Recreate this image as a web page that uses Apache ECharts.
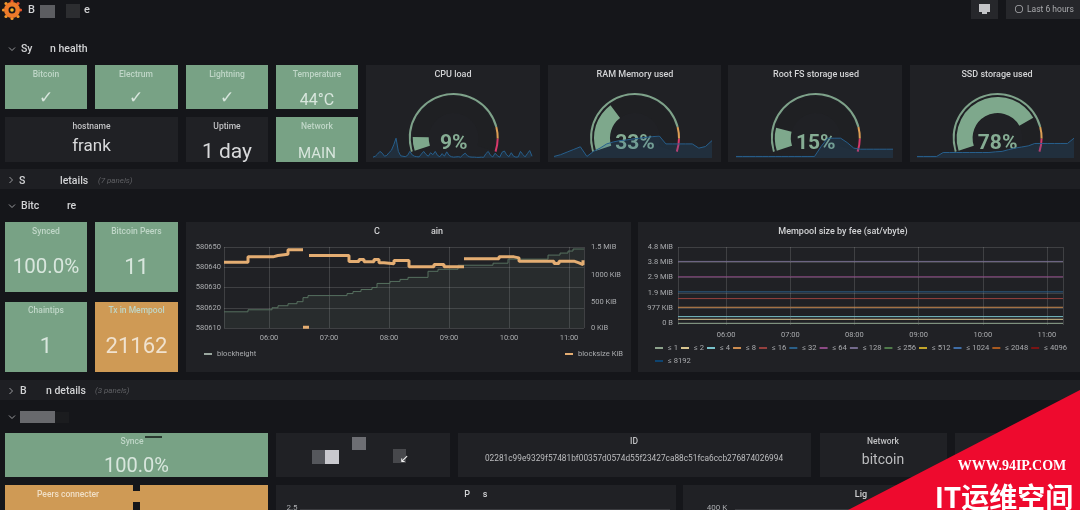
<!DOCTYPE html>
<html>
<head>
<meta charset="utf-8">
<script src="https://cdn.jsdelivr.net/npm/echarts@6/dist/echarts.min.js"></script>
<style>
html,body{margin:0;padding:0;background:#15161a;}
#main{width:1080px;height:510px;}
</style>
</head>
<body>
<div id="main"></div>
<script>
// gauges
var gaugeNames=['CPU load','RAM Memory used','Root FS storage used','SSD storage used'];
var gaugeValues=[9,33,15,78];
// sparklines behind the gauges (0-100 = height of the spark area)
var cpuSpark=[4,8,18,30,22,8,12,25,35,60,90,30,10,8,6,12,30,14,8,6,5,18,30,16,8,24,15,30,12,6,20,8,28,12,6,4,5,6,4,14,22,10,5,4,4,3,3,4,3,20,30,12,5,22,10,4,26,32,14,6,24,8,4,5,30,16,5,20,34,8];
var ramSpark=[7,15,27,39,51,7,30,45,64,73,79,82,87,90,94,97,100,64,64,64,64,64,45,52,79];
var rootSpark=[7,7,7,7,7,7,7,7,7,7,7,7,7,52,90,90,90,70,45,40,40,40,40,40,40];
var ssdSpark=[7,7,7,7,25,25,25,25,25,25,25,25,28,30,38,45,50,55,66,66,66,66,66,66,90];

// blockheight / blocksize chart
var blockTimes=['05:15','05:39','06:03','06:09','06:19','06:28','06:34','06:39','07:18','07:24','07:32','07:43','07:48','08:01','08:11','08:19','08:39','08:49','09:09','09:44','09:59','10:39','10:51','10:59','11:04','11:15'];
var blockHeight=[580618,580619,580620,580621,580622,580623,580625,580626,580627,580628,580629,580630,580632,580633,580634,580635,580638,580639,580641,580642,580644,580646,580647,580648,580649,580649];
var sizeTimes=['05:15','05:39','06:04','06:09','06:19','06:34','06:34','06:34','06:39','06:40','06:40','07:20','07:30','07:35','07:45','07:50','07:55','08:05','08:20','08:25','08:45','08:55','09:15','09:15','09:50','10:05','10:10','10:45','10:50','11:05','11:10','11:14'];
var sizeValues=[1249,1349,1374,1399,1486,1486,null,12,12,null,1374,1261,1299,1255,1299,1236,1218,1280,1161,1161,1205,1161,null,1311,1349,1330,1267,1224,1267,1236,1199,1286];

// mempool chart
var feeNames=['≤ 1','≤ 2','≤ 4','≤ 8','≤ 16','≤ 32','≤ 64','≤ 128','≤ 256','≤ 512','≤ 1024','≤ 2048','≤ 4096','≤ 8192'];
var feeTimes=['05:15','07:00','09:00','11:15'];
var fee1=[0,0,0,0];
var fee2=[257,257,257,257];
var fee4=[428,428,428,428];
var fee8=[1027,1027,1027,1027];
var fee16=[1584,1584,1584,1584];
var fee32=[2012,2012,2012,2012];
var fee64=[2975,2975,2975,2975];
var fee128=[3960,3960,3960,3960];
var feeValues=[fee1,fee2,fee4,fee8,fee16,fee32,fee64,fee128,[],[],[],[],[],[]];
var feeColors=['#8da38c','#d8c48f','#79c2ca','#cc8c50','#94403e','#2a5f88','#8c4a85','#736a8c','#4f7a4a','#c2a52a','#3f6ea8','#a85a20','#7a1414','#0e4470'];
var memTicks=[0,976.5625,1953.125,2929.6875,3906.25,4882.8125];
var memLabels=['0 B','977 KiB','1.9 MiB','2.9 MiB','3.8 MiB','4.8 MiB'];
var sizeTicks=[0,500,1000,1536];
var sizeLabels=['0 KiB','500 KiB','1000 KiB','1.5 MiB'];
var fontName='Roboto, "Noto Sans", sans-serif';
var bg='#15161a',panel='#202125',green='#78a285',orange='#cf9a55',txt='#d2d3d5',axisTxt='#a9abae',gridCol='rgba(255,255,255,0.14)';
var day='2019-06-18 ';

function pairs(t,v){
    var out=[];
    for(var i=0;i<t.length;i++){
        out.push([day+t[i],v[i]]);
    }
    return out;
}
function rect(x,y,w,h,c,z){
    return {type:'rect',z:z||0,shape:{x:x,y:y,width:w,height:h},style:{fill:c}};
}
function label(s,x,y,size,c,align,weight,fam){
    // canvas middle sits high for this font, big text needs more
    var dy=size>14?4:3;
    return {type:'text',z:50,x:x,y:y+dy,style:{text:s,fill:c||txt,font:(weight||'400')+' '+size+'px '+(fam||fontName),textAlign:align||'center',textVerticalAlign:'middle'}};
}
function chevron(x,y,down){
    var pts=down?[[x-3,y-1.5],[x,y+1.5],[x+3,y-1.5]]:[[x-1.5,y-3],[x+1.5,y],[x-1.5,y+3]];
    return {type:'polyline',z:50,shape:{points:pts},style:{stroke:'#9a9b9e',lineWidth:1,fill:null}};
}

var g=[];
// top bar
var teeth=[[12,1.5],[18,3.5],[20.5,10],[18,16.5],[12,18.5],[6,16.5],[3.5,10],[6,3.5]];
for(var t=0;t<teeth.length;t++){
    g.push({type:'circle',z:50,shape:{cx:teeth[t][0],cy:teeth[t][1],r:1.6},style:{fill:t<3?'#e8562a':'#f09a2c'}});
}
g.push({type:'ring',z:50,shape:{cx:12,cy:10,r:8,r0:3.5},style:{fill:'#ec7a2a'}});
g.push({type:'circle',z:50,shape:{cx:12,cy:10,r:1.8},style:{fill:'#f3b52f'}});
g.push(label('B',28,7,11,txt,'left','500'));
g.push(rect(40,5,15,13,'#5c5d61',50));
g.push(rect(66,4,14,14,'#2c2d30',50));
g.push(label('e',84,7,11,txt,'left','500'));
g.push(rect(971,0,27,19,'#26272b'));
g.push(rect(979,4,11,8,'#c4c5c8',50));
g.push(rect(982,12,5,2,'#c4c5c8',50));
g.push(rect(1006,0,74,19,'#26272b'));
g.push({type:'ring',z:50,shape:{cx:1019,cy:9,r:4,r0:3.2},style:{fill:'#a9aaad'}});
g.push(label('Last 6 hours',1027,6.5,8.5,'#a9aaad','left'));

// section rows
g.push(chevron(12,49,true));
g.push(label('Sy',21,46.5,10.5,txt,'left','500'));
g.push(label('n health',50,46.5,10.5,txt,'left','500'));
g.push(rect(0,169,1080,20,'#1e1f23'));
g.push(chevron(11,180,false));
g.push(label('S',19,178,10.5,txt,'left','500'));
g.push(label('letails',60,178,10.5,txt,'left','500'));
g.push(label('(7 panels)',98,177.5,8,'#5f6064','left','italic 400'));
g.push(chevron(12,206,true));
g.push(label('Bitc',21,203.5,10.5,txt,'left','500'));
g.push(label('re',67,203.5,10.5,txt,'left','500'));
g.push(rect(0,380,1080,20,'#1e1f23'));
g.push(chevron(11,391,false));
g.push(label('B',20,388,10.5,txt,'left','500'));
g.push(label('n details',46,388,10.5,txt,'left','500'));
g.push(label('(3 panels)',95,387.5,8,'#5f6064','left','italic 400'));
g.push(chevron(12,417,true));
g.push(rect(20,411,35,12,'#68696d',50));
g.push(rect(55,412,14,11,'#1b1c1f',50));

// stat tiles
function tile(x,y,w,h,c,title,val,size,vy,ty,vc){
    g.push(rect(x,y,w,h,c));
    var tc=(c==panel)?'#c0c1c3':'#bfd6c7';
    g.push(label(title,x+w/2,ty-2,8.5,tc,'center','500'));
    g.push(label(val,x+w/2,vy-2,size,vc||'#d8e6dd','center','400'));
}
var checkFont='"DejaVu Sans"';
g.push(rect(5,65,82,44,green));g.push(label('Bitcoin',46,72,8.5,'#bfd6c7','center','500'));g.push(label('✓',46,95,17,'#d8e6dd','center','400',checkFont));
g.push(rect(95,65,83,44,green));g.push(label('Electrum',136,72,8.5,'#bfd6c7','center','500'));g.push(label('✓',136,95,17,'#d8e6dd','center','400',checkFont));
g.push(rect(186,65,82,44,green));g.push(label('Lightning',227,72,8.5,'#bfd6c7','center','500'));g.push(label('✓',227,95,17,'#d8e6dd','center','400',checkFont));
tile(276,65,82,44,green,'Temperature','44°C',16,99,74);
tile(5,117,173,45,panel,'hostname','frank',17,145,126,'#d8d9db');
tile(186,117,82,45,panel,'Uptime','1 day',21,151,126,'#d8d9db');
tile(276,117,82,45,green,'Network','MAIN',15,152,126);
tile(5,222,82,70,green,'Synced','100.0%',20.5,266,231);
tile(95,222,83,70,green,'Bitcoin Peers','11',22,266,231);
tile(5,302,82,70,green,'Chaintips','1',22,345,310);
tile(95,302,83,70,orange,'Tx in Mempool','21162',22,345,310,'#f0e2cf');

// gauge panels and chart panels
g.push(rect(366,65,174,97,panel));
g.push(rect(548,65,173,97,panel));
g.push(rect(728,65,174,97,panel));
g.push(rect(910,65,170,97,panel));
for(var n=0;n<gaugeNames.length;n++){
    g.push(label(gaugeNames[n],[453,635,816,997][n],72,9,txt,'center','500'));
}
g.push(rect(186,222,445,150,panel));
g.push(label('C',377,229,9,txt,'center','500'));
g.push(label('ain',437,229,9,txt,'center','500'));
g.push(rect(638,222,442,150,panel));
g.push(label('Mempool size by fee (sat/vbyte)',843,229,9,txt,'center','500'));

// lower rows
tile(5,433,263,44,green,'','100.0%',20,465,441);
g.push(label('Synce',132,439,8.5,'#bfd6c7','center','500'));
g.push(rect(145,436,17,2,'#2a3a30',50));
g.push(rect(276,433,174,44,panel));
g.push(rect(312,450,14,14,'#55575c',50));
g.push(rect(325,450,14,14,'#c9c9ce',50));
g.push(rect(352,437,14,13,'#6d6e73',50));
g.push(rect(393,449,13,14,'#47484c',50));
g.push(label('↙',404,456,11,'#f0f0f0','center','400','"DejaVu Sans"'));
g.push(rect(458,433,353,44,panel));
g.push(label('ID',634,439,8.5,'#c0c1c3','center','500'));
g.push(label('02281c99e9329f57481bf00357d0574d55f23427ca88c51fca6ccb276874026994',634,456,8.3,'#bcbdbf'));
g.push(rect(820,433,127,44,panel));
g.push(label('Network',883,439,8.5,'#c0c1c3','center','500'));
g.push(label('bitcoin',883,457,14,'#bcbdbf'));
g.push(rect(955,433,125,44,panel));
g.push(rect(5,485,263,25,orange));
g.push(rect(133,485,7,6,'#15161a',50));
g.push(rect(133,502,7,8,'#15161a',50));
g.push(label('Peers connecter',37,492,8.5,'#f0dfc6','left','500'));
g.push(rect(276,485,400,25,panel));
g.push(label('P',467,492,9,txt,'center','500'));
g.push(label('s',485,492,9,txt,'center','500'));
g.push(label('2.5',292,505,8,axisTxt));
g.push(rect(300,509,370,1,'#3a3b3f'));
g.push(rect(683,485,397,25,panel));
g.push(label('Lig',861,492,9,txt,'center','500'));
g.push(label('400 K',717,505,8,axisTxt));
g.push(rect(735,509,200,1,'#3a3b3f'));

// watermark corner
g.push({type:'polygon',z:60,shape:{points:[[1080,390],[848,510],[1080,510]]},style:{fill:'#ee0a2e'}});
var wm1=label('WWW.94IP.COM',1012,463,14,'#ffffff','center','700','"Liberation Serif"');wm1.z=61;g.push(wm1);
var wm2=label('IT运维空间',1004,493,28,'#ffffff','center','700','"Noto Sans CJK SC"');wm2.z=61;g.push(wm2);

// axes, grids and series
var grids=[],xAxes=[],yAxes=[],series=[];
var gaugeCenters=[453.7,635,815.8,997.6];
var sparkBoxes=[[373,159],[554,158],[736,157],[917,157]];
var sparks=[cpuSpark,ramSpark,rootSpark,ssdSpark];
for(var i=0;i<4;i++){
    series.push({type:'gauge',center:[gaugeCenters[i],138],radius:45,startAngle:198,endAngle:-18,min:0,max:100,
        axisLine:{lineStyle:{width:2,color:[[0.85,'#7ea28a'],[0.92,'#dc9e55'],[1,'#d8396b']]}},
        axisTick:{show:false},splitLine:{show:false},axisLabel:{show:false},pointer:{show:false},anchor:{show:false},
        title:{show:false},detail:{show:false},data:[{value:gaugeValues[i]}]});
    series.push({type:'gauge',center:[gaugeCenters[i],138],radius:41,startAngle:198,endAngle:-18,min:0,max:100,
        axisLine:{lineStyle:{width:16,color:[[1,'#1f2023']]}},
        progress:{show:true,width:16,itemStyle:{color:'#7ea88c'}},
        axisTick:{show:false},splitLine:{show:false},axisLabel:{show:false},pointer:{show:false},anchor:{show:false},
        title:{show:false},
        detail:{show:true,offsetCenter:[0,6],formatter:'{value}%',fontSize:21,fontWeight:'bold',fontFamily:fontName,color:'#86ad94'},
        data:[{value:gaugeValues[i]}]});
    grids.push({left:sparkBoxes[i][0],width:sparkBoxes[i][1],top:136,height:22});
    var idx=[];
    for(var k=0;k<sparks[i].length;k++){idx.push(k);}
    xAxes.push({type:'category',gridIndex:i,show:false,boundaryGap:false,data:idx});
    yAxes.push({type:'value',gridIndex:i,show:false,min:0,max:100});
    series.push({type:'line',xAxisIndex:i,yAxisIndex:i,data:sparks[i],symbol:'none',silent:true,
        lineStyle:{width:1,color:'#275f8c'},areaStyle:{color:'rgba(38,100,150,0.3)'}});
}

// blockheight chart
grids.push({left:224,width:360,top:247,height:81});
xAxes.push({type:'time',gridIndex:4,min:day+'05:15',max:day+'11:15',minInterval:3600000,maxInterval:3600000,
    axisLine:{show:false},axisTick:{show:false},splitLine:{show:true,lineStyle:{color:gridCol,width:1}},
    axisLabel:{formatter:'{HH}:{mm}',color:axisTxt,fontSize:7.5,fontFamily:fontName,margin:6,showMinLabel:false,showMaxLabel:false,hideOverlap:false}});
yAxes.push({type:'value',gridIndex:4,min:580610,max:580650,interval:10,
    axisLine:{show:false},axisTick:{show:false},splitLine:{show:true,lineStyle:{color:gridCol}},
    axisLabel:{color:axisTxt,fontSize:7.5,fontFamily:fontName,margin:3,formatter:function(v){return ''+v;}}});
yAxes.push({type:'value',gridIndex:4,position:'right',min:0,max:1536,
    axisLine:{show:false},axisTick:{show:false},splitLine:{show:false},
    axisLabel:{color:axisTxt,fontSize:7.5,fontFamily:fontName,margin:7,customValues:sizeTicks,
        formatter:function(v){return sizeLabels[sizeTicks.indexOf(v)];}}});
series.push({name:'blockheight',type:'line',xAxisIndex:4,yAxisIndex:4,step:'end',symbol:'none',z:3,
    data:pairs(blockTimes,blockHeight),lineStyle:{width:1,color:'#56705f'},itemStyle:{color:'#9aa79f'},
    areaStyle:{color:'rgba(125,165,135,0.12)'}});
series.push({name:'blocksize KiB',type:'line',xAxisIndex:4,yAxisIndex:5,step:'end',symbol:'none',z:4,
    data:pairs(sizeTimes,sizeValues),lineStyle:{width:3,color:'#e4ad72'},itemStyle:{color:'#e4ad72'}});

// mempool chart
grids.push({left:678,width:385,top:247,height:78});
xAxes.push({type:'time',gridIndex:5,min:day+'05:15',max:day+'11:15',minInterval:3600000,maxInterval:3600000,
    axisLine:{show:false},axisTick:{show:false},splitLine:{show:true,lineStyle:{color:gridCol,width:1}},
    axisLabel:{formatter:'{HH}:{mm}',color:axisTxt,fontSize:7.5,fontFamily:fontName,margin:6,showMinLabel:false,showMaxLabel:false,hideOverlap:false}});
yAxes.push({type:'value',gridIndex:5,min:-107,max:4882.8125,
    axisLine:{show:false},axisTick:{show:false,customValues:memTicks},splitLine:{show:true,lineStyle:{color:gridCol}},
    axisLabel:{color:axisTxt,fontSize:7.5,fontFamily:fontName,margin:5,customValues:memTicks,
        formatter:function(v){return memLabels[memTicks.indexOf(v)];}}});
for(var f=0;f<feeNames.length;f++){
    series.push({name:feeNames[f],type:'line',xAxisIndex:5,yAxisIndex:6,symbol:'none',z:3,
        data:pairs(feeTimes.slice(0,feeValues[f].length),feeValues[f]),
        lineStyle:{width:1,color:feeColors[f]},itemStyle:{color:feeColors[f]}});
}

var legendBase={orient:'horizontal',icon:'rect',itemWidth:8,itemHeight:2,itemTextGap:2,padding:0,textStyle:{color:axisTxt,fontSize:7.6,fontFamily:fontName},selectedMode:false};
var myChart=echarts.init(document.getElementById('main'));
myChart.setOption({
    backgroundColor:bg,
    animation:false,
    textStyle:{fontFamily:fontName},
    graphic:g,
    grid:grids,
    xAxis:xAxes,
    yAxis:yAxes,
    legend:[
        Object.assign({},legendBase,{left:204,top:350,data:['blockheight']}),
        Object.assign({},legendBase,{left:565,top:350,data:['blocksize KiB']}),
        Object.assign({},legendBase,{left:655,top:344,width:425,itemGap:3,data:feeNames.slice(0,13)}),
        Object.assign({},legendBase,{left:655,top:357,data:feeNames.slice(13)})
    ],
    series:series
});
</script>
</body>
</html>
